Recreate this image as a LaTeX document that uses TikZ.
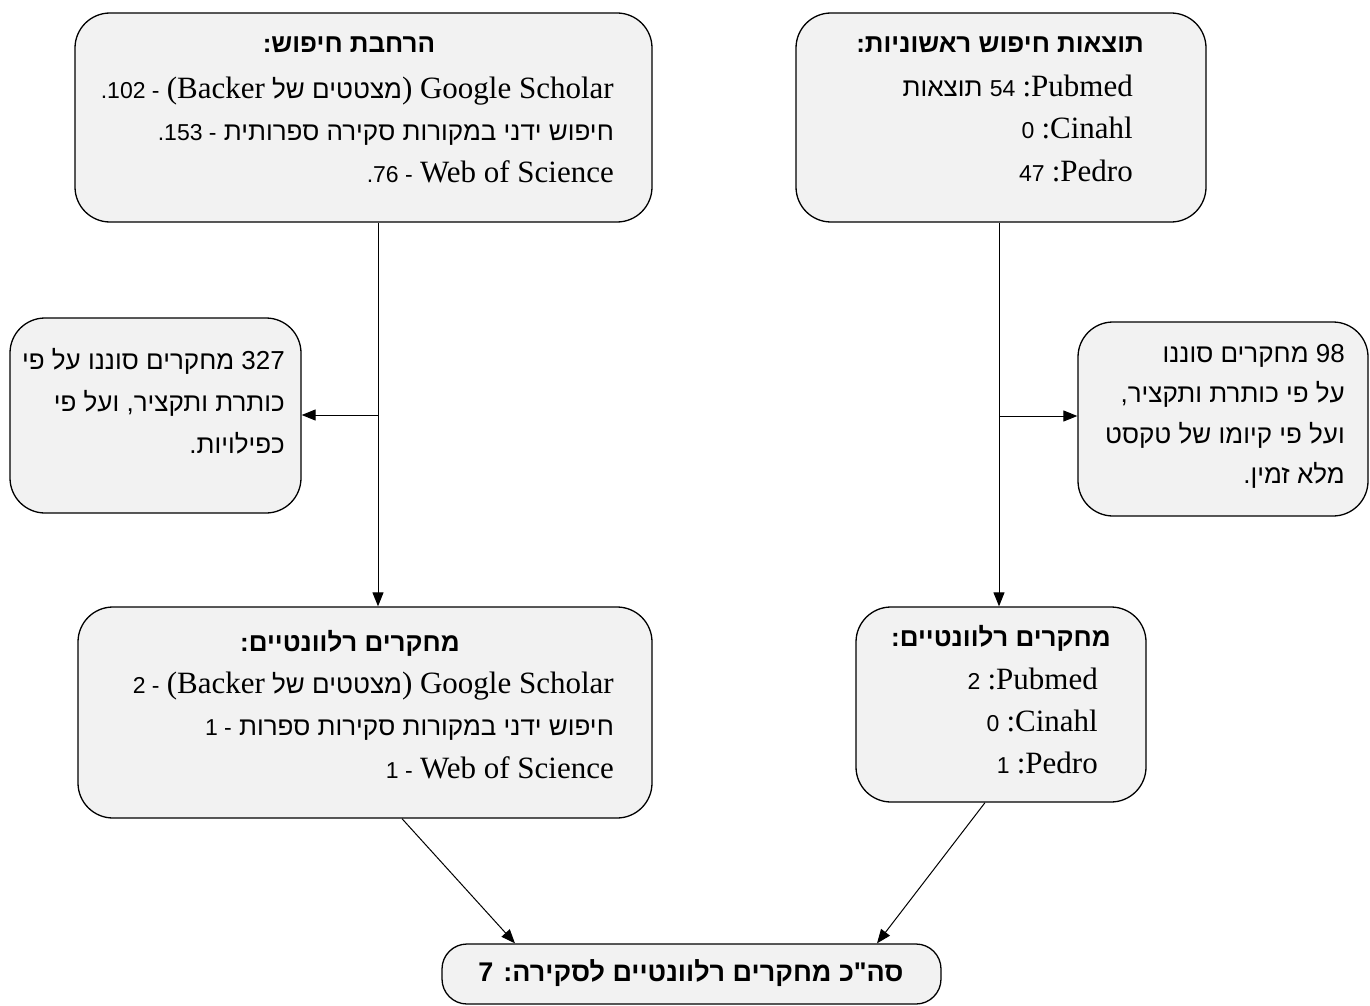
\documentclass[tikz,border=0pt]{standalone}
\usepackage{fontspec}
\setmainfont{Liberation Serif}
\newfontfamily\hb[Script=Hebrew]{Liberation Sans}
\newfontfamily\hs{Liberation Sans}
\TeXXeTstate=1
\usetikzlibrary{arrows.meta}
\definecolor{boxfill}{RGB}{242,242,242}
\newcommand\fsL{\fontsize{31}{36}\selectfont}
\newcommand\fsH{\fontsize{26}{30}\selectfont}
\newcommand\fsD{\fontsize{23}{26}\selectfont}
\newcommand\fsT{\fontsize{26}{30}\selectfont}
\newcommand\fsS{\fontsize{26}{30}\selectfont}
\newcommand\LT[1]{{\rmfamily\fsL #1}}
\newcommand\DG[1]{{\hs\fsD #1}}
\newcommand\HB[1]{{\hb\fsH\beginR #1\endR}}
\begin{document}
\begin{tikzpicture}[x=1pt,y=-1pt,
  box/.style={draw, fill=boxfill, line width=1.3pt, rounded corners=35pt, inner sep=0pt},
  ttl/.style={inner sep=0pt, anchor=base, font=\hb\bfseries\fsT},
  ln/.style={inner sep=0pt, anchor=base east, font=\hb\fsH},
  sd/.style={inner sep=0pt, anchor=base east, font=\hb\fsS},
  con/.style={line width=1pt},
  arr/.style={line width=1pt, -{Triangle[length=14pt,width=11pt]}}]
\useasboundingbox (0,0) rectangle (1370,1006);
% boxes
\node[box, minimum width=577pt, minimum height=209pt] (A) at (363.5,117.5) {};
\node[box, minimum width=410pt, minimum height=209pt] (B) at (1001,117.5) {};
\node[box, minimum width=291pt, minimum height=195pt] (C) at (155.5,415.5) {};
\node[box, minimum width=290pt, minimum height=194pt] (D) at (1223,419) {};
\node[box, minimum width=574pt, minimum height=211pt] (E) at (365,712.5) {};
\node[box, minimum width=290pt, minimum height=195pt] (F) at (1001,704.5) {};
\node[box, minimum width=499pt, minimum height=60pt, rounded corners=25pt] (G) at (691.5,974) {};
% texts A
\node[ttl] (a0) at (349,53) {\beginR הרחבת חיפוש:\endR};
\node[ln] (a1) at (614,99) {\DG{.102 -} \LT{(Backer} \HB{מצטטים של}\LT{) Google Scholar}};
\node[ln] (a2) at (614,141) {\DG{.153 -} \HB{חיפוש ידני במקורות סקירה ספרותית}};
\node[ln] (a3) at (614,182) {\DG{.76 -} \LT{Web of Science}};
% texts B
\node[ttl] (b0) at (1000,53) {\beginR תוצאות חיפוש ראשוניות:\endR};
\node[ln] (b1) at (1133,97) {\HB{תוצאות} \DG{54} \LT{:Pubmed}};
\node[ln] (b2) at (1133,139) {\DG{0} \LT{:Cinahl}};
\node[ln] (b3) at (1133,181) {\DG{47} \LT{:Pedro}};
% texts C
\node[sd] (c1) at (285,369) {\beginR 327 מחקרים סוננו על פי\endR};
\node[sd] (c2) at (285,411) {\beginR כותרת ותקציר, ועל פי\endR};
\node[sd] (c3) at (285,453) {\beginR כפילויות.\endR};
% texts D
\node[sd] (d1) at (1345,362) {\beginR 98 מחקרים סוננו\endR};
\node[sd] (d2) at (1345,402) {\beginR על פי כותרת ותקציר,\endR};
\node[sd] (d3) at (1345,443) {\beginR ועל פי קיומו של טקסט\endR};
\node[sd] (d4) at (1345,483) {\beginR מלא זמין.\endR};
% texts E
\node[ttl] (e0) at (350,651) {\beginR מחקרים רלוונטיים:\endR};
\node[ln] (e1) at (614,693) {\DG{2 -} \LT{(Backer} \HB{מצטטים של}\LT{) Google Scholar}};
\node[ln] (e2) at (614,735) {\DG{1 -} \HB{חיפוש ידני במקורות סקירות ספרות}};
\node[ln] (e3) at (614,778) {\DG{1 -} \LT{Web of Science}};
% texts F
\node[ttl] (f0) at (1001,646) {\beginR מחקרים רלוונטיים:\endR};
\node[ln] (f1) at (1098,689) {\DG{2} \LT{:Pubmed}};
\node[ln] (f2) at (1098,731) {\DG{0} \LT{:Cinahl}};
\node[ln] (f3) at (1098,773) {\DG{1} \LT{:Pedro}};
% text G
\node[inner sep=0pt, anchor=base, font=\hb\bfseries\fontsize{27}{32}\selectfont] (g0) at (691,981) {\beginR סה"כ מחקרים רלוונטיים לסקירה: 7\endR};
% connectors
\coordinate (jl) at (378,415);
\coordinate (jr) at (999,416);
\draw[arr] (A.south -| jl) -- (E.north -| jl);
\draw[arr] (jl) -- (C.east |- jl);
\draw[arr] (B.south -| jr) -- (F.north -| jr);
\draw[arr] (jr) -- (D.west |- jr);
\coordinate (el) at (402,818);
\coordinate (gl) at (515,944);
\coordinate (fr) at (985,802);
\coordinate (gr) at (877,944);
\draw[arr] (E.south -| el) -- (G.north -| gl);
\draw[arr] (F.south -| fr) -- (G.north -| gr);
\end{tikzpicture}
\end{document}
